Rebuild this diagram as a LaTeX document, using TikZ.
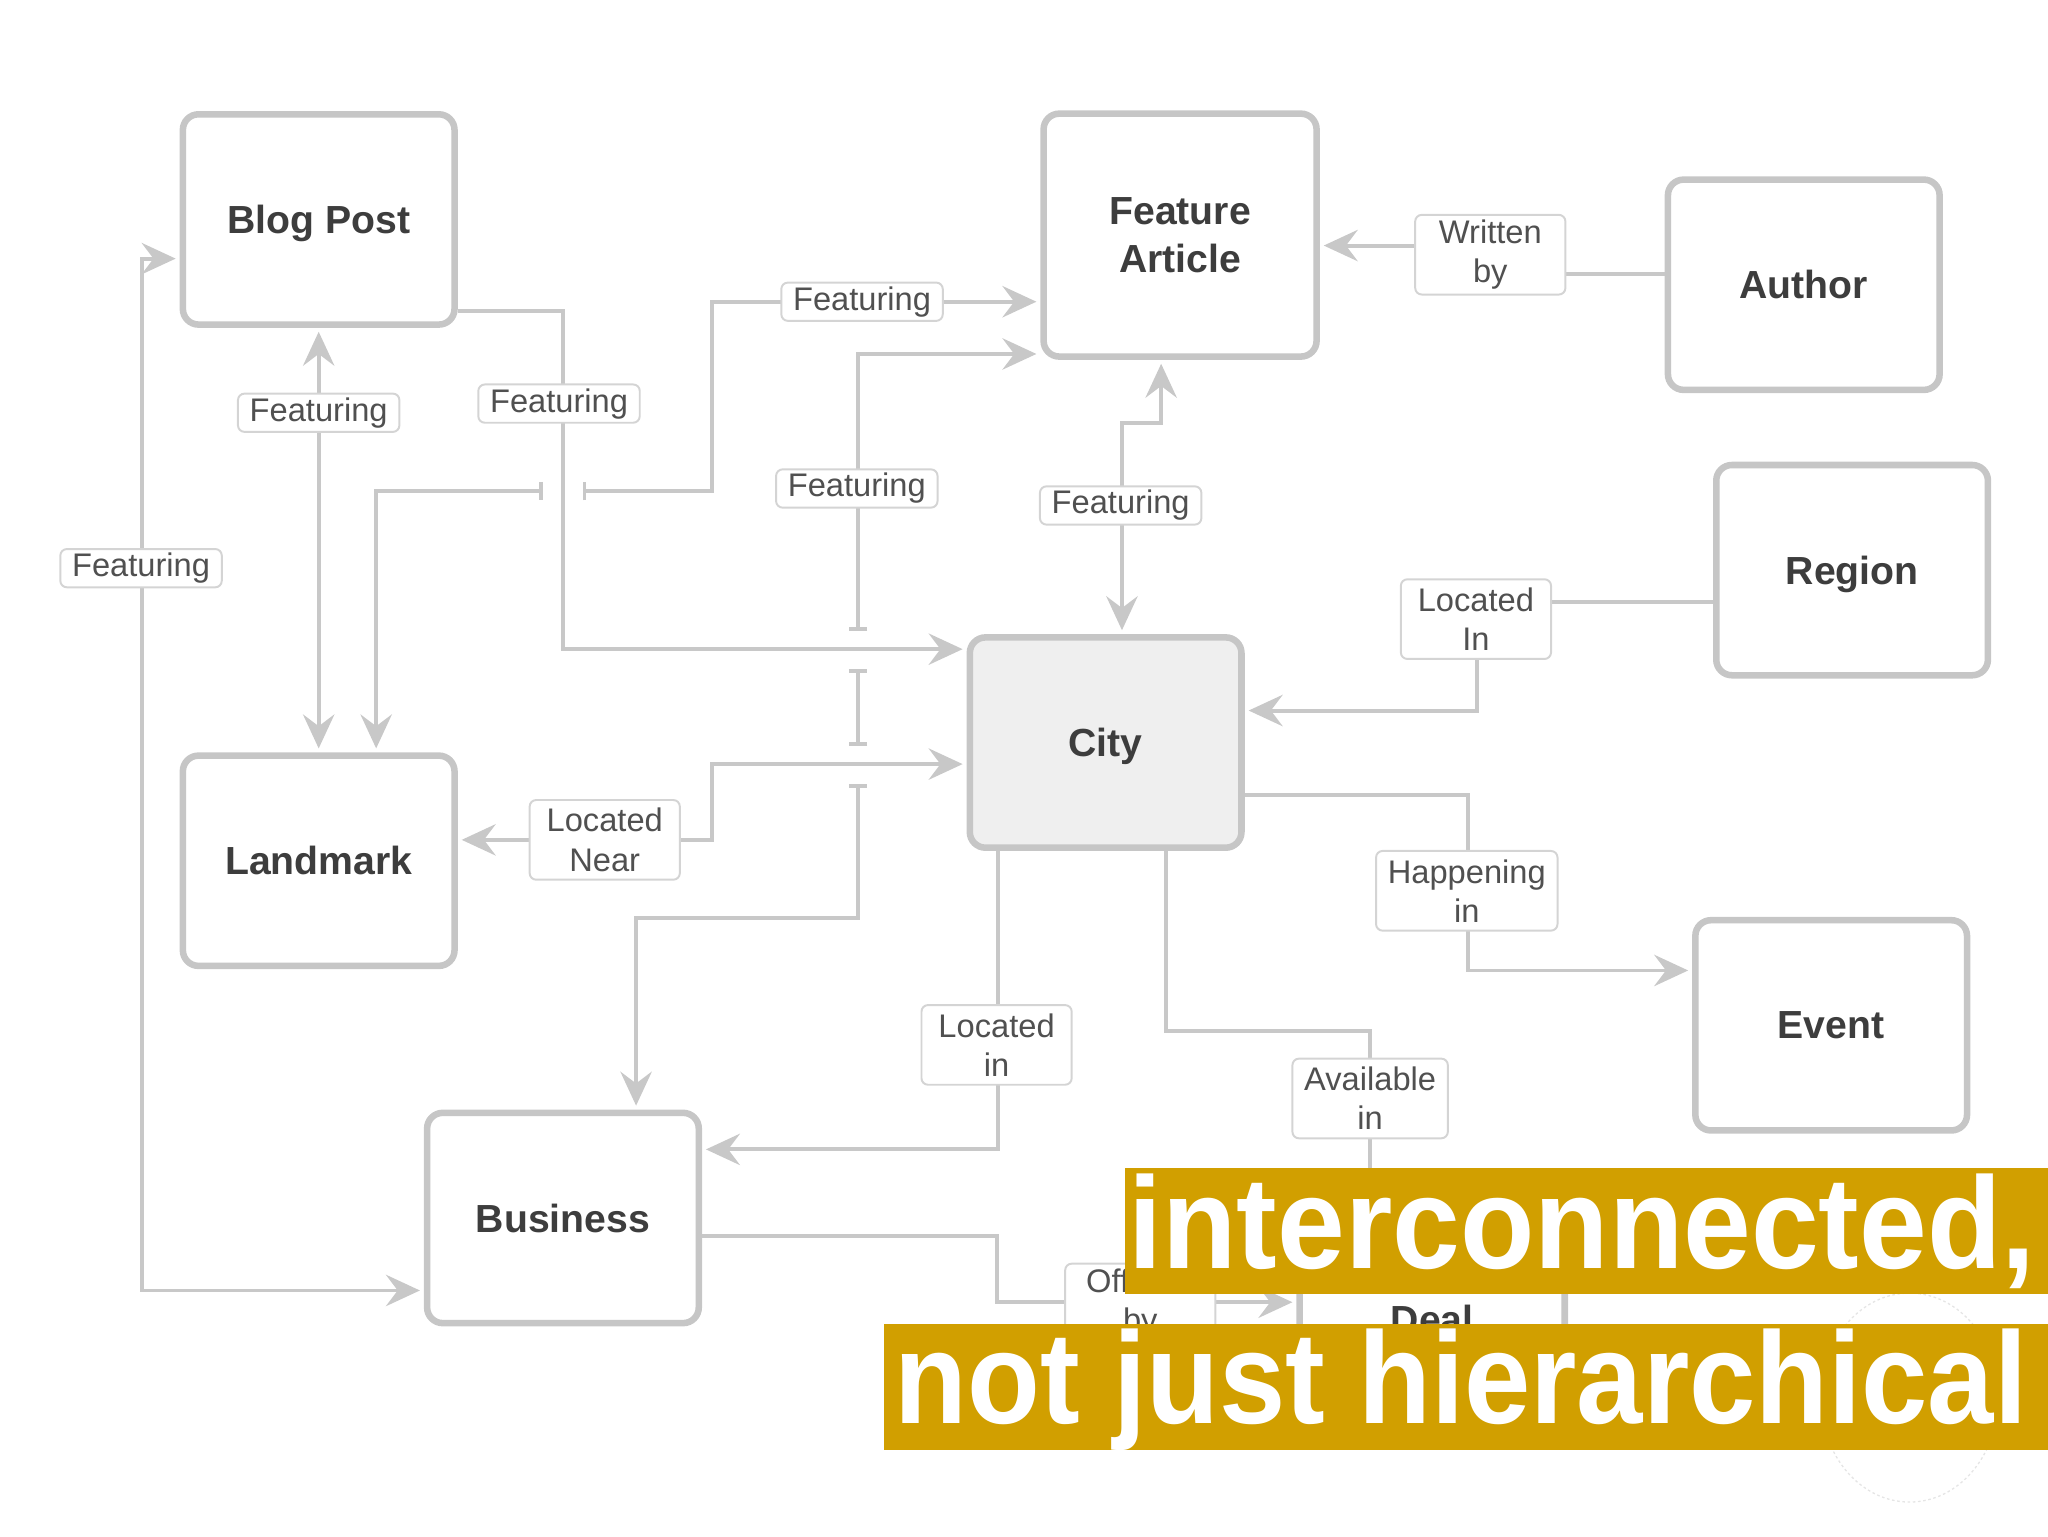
\documentclass[tikz,border=0pt]{standalone}
\usepackage{fontspec}
\setmainfont{Liberation Sans}
\usetikzlibrary{arrows.meta}
\definecolor{edgec}{HTML}{C8C8C8}
\definecolor{boxc}{HTML}{C6C6C6}
\definecolor{labc}{HTML}{D4D4D4}
\definecolor{titc}{HTML}{3D3D3D}
\definecolor{labt}{HTML}{505050}
\definecolor{gold}{HTML}{D19F00}
\definecolor{cityfill}{HTML}{EFEFEF}
\tikzset{
  myst/.tip={Stealth[length=26pt,width=24pt,inset=9pt]},
  mybar/.tip={Bar[width=14pt]}
}
\begin{document}
\begin{tikzpicture}[x=1pt,y=-1pt,
  ent/.style={draw=boxc, line width=5pt, rounded corners=12pt, fill=white,
    minimum width=208pt, minimum height=161pt, inner sep=0pt, text=titc,
    text depth=0pt,
    font=\bfseries\fontsize{30}{37}\selectfont, align=center},
  lab/.style={draw=labc, line width=1.5pt, rounded corners=5pt, fill=white,
    text=labt, font=\fontsize{25}{30}\selectfont, align=center,
    inner xsep=9pt, inner ysep=3pt},
  lab2/.style={lab, minimum width=115pt, minimum height=61pt},
  conn/.style={draw=edgec, line width=3pt},
  toA/.style={conn, -{myst}, shorten >=3pt},
  bothA/.style={conn, {myst}-{myst}, shorten >=3pt, shorten <=3pt},
  barA/.style={conn, {mybar}-{myst}, shorten >=3pt},
  barB/.style={conn, {mybar}-{mybar}},
  banner/.style={fill=gold, draw=none},
  bantext/.style={anchor=base west, inner sep=0pt, text=white}
]
\useasboundingbox (0,0) rectangle (1568,1176);

% entity boxes
\node[ent] (bp) at (244,168) {Blog Post};
\node[ent, minimum width=209pt, minimum height=186pt] (fa) at (903.5,180) {Feature\\Article};
\node[ent] (au) at (1381,218) {Author};
\node[ent] (rg) at (1418,436.5) {Region};
\node[ent, fill=cityfill] (ct) at (846.5,568.5) {City};
\node[ent] (lm) at (244,659) {Landmark};
\node[ent] (ev) at (1402,785) {Event};
\node[ent] (bu) at (431,932.5) {Business};
\node[ent, minimum width=203pt] (dl) at (1096.5,1010) {Deal};

% hop points
\coordinate (h1a) at (416,376);
\coordinate (h1b) at (446,376);
\coordinate (h2a) at (657,483);
\coordinate (h2b) at (657,512);
\coordinate (h3a) at (657,571);
\coordinate (h3b) at (657,600);

% connectors
\draw[bothA] (bp.south) -- (lm.north);
\draw[barA] (h1a) -| ([xshift=44pt]lm.north);
\draw[barA] (h1b) -- (545,376) |- (fa.west |- 0,231);
\draw[toA] (bp.east |- 0,238) -| (431,497) -- (ct.west |- 0,497);
\draw[barA] (h2a) |- (fa.west |- 0,271);
\draw[barB] (h2b) -- (h3a);
\draw[barA] (h3b) |- (487,703) -- (bu.north -| 487,0);
\draw[bothA] (ct.north -| 859,0) -- (859,324) -| (fa.south -| 889,0);
\draw[toA] (au.west |- 0,210) -- (1141,210) -- (1141,188) -- (fa.east |- 0,188);
\draw[toA] (rg.west |- 0,461) -| (1131,544) -- (ct.east |- 0,544);
\draw[toA] (ct.east |- 0,609) -| (1124,743) -- (ev.west |- 0,743);
\draw[toA] (ct.south -| 893,0) |- (1049,789) -- (dl.north -| 1049,0);
\draw[toA] (ct.south -| 764,0) |- (bu.east |- 0,880);
\draw[bothA] (lm.east |- 0,643) -| (545,585) -- (ct.west |- 0,585);
\draw[bothA] (bp.west |- 0,198) -| (109,988) -- (bu.west |- 0,988);
\draw[toA] (bu.east |- 0,946) -| (763,997) -- (dl.west |- 0,997);

% connector labels
\node[lab] (l1) at (244,316) {Featuring};
\node[lab] (l2) at (428,309) {Featuring};
\node[lab] (l3) at (108,435) {Featuring};
\node[lab] (l4) at (660,231) {Featuring};
\node[lab] (l5) at (656,374) {Featuring};
\node[lab] (l6) at (858,387) {Featuring};
\node[lab2] (l7) at (1141,195) {Written\\by};
\node[lab2] (l8) at (1130,474) {Located\\In};
\node[lab2] (l9) at (463,643) {Located\\Near};
\node[lab2] (l10) at (1123,682) {Happening\\in};
\node[lab2] (l11) at (763,800) {Located\\in};
\node[lab2] (l12) at (1049,841) {Available\\in};
\node[lab2] (l13) at (873,998) {Offered\\by};

% faint circle
\draw[black!10, line width=1pt, dash pattern=on 2pt off 2pt] (1462,1070) ellipse [x radius=68, y radius=80];

% banners
\fill[banner] (861,894) rectangle (1568,991);
\fill[banner] (677,1014) rectangle (1568,1110);
\node[bantext] (t1) at (864,971) {\resizebox{694pt}{\height}{\bfseries\fontsize{100}{100}\selectfont interconnected,}};
\node[bantext] (t2) at (685,1090) {\resizebox{867pt}{\height}{\bfseries\fontsize{100}{100}\selectfont not just hierarchical}};
\end{tikzpicture}
\end{document}
